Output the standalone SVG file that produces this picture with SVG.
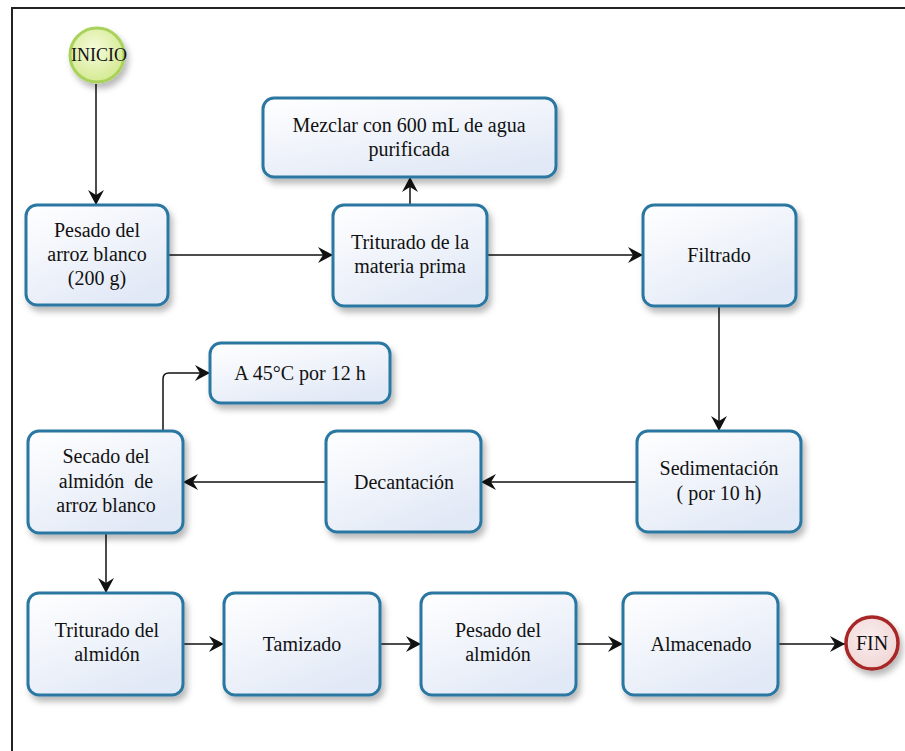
<svg xmlns="http://www.w3.org/2000/svg" width="905" height="751" viewBox="0 0 905 751">
<defs>
<linearGradient id="boxFill" x1="0" y1="0" x2="0.6" y2="1">
<stop offset="0" stop-color="#ffffff"/>
<stop offset="1" stop-color="#e2e9f6"/>
</linearGradient>
<radialGradient id="startFill" cx="0.45" cy="0.4" r="0.6">
<stop offset="0" stop-color="#f6fbdc"/>
<stop offset="1" stop-color="#d4ea92"/>
</radialGradient>
<radialGradient id="endFill" cx="0.45" cy="0.4" r="0.6">
<stop offset="0" stop-color="#fbeeee"/>
<stop offset="1" stop-color="#f0d6d6"/>
</radialGradient>
<filter id="shadow" x="-20%" y="-20%" width="150%" height="160%">
<feDropShadow dx="3" dy="5" stdDeviation="3" flood-color="#000" flood-opacity="0.28"/>
</filter>
<marker id="arrow" markerUnits="userSpaceOnUse" markerWidth="17" markerHeight="17" refX="15" refY="8" orient="auto">
<path d="M0,0 L15,8 L0,16 L5,8 Z" fill="#111"/>
</marker>
<style>
.box{fill:url(#boxFill);stroke:#2a77a2;stroke-width:3;filter:url(#shadow)}
.lbl{font-size:20px;fill:#111;text-anchor:middle}
.conn{fill:none;stroke:#111;stroke-width:1.5;marker-end:url(#arrow)}
.frame{stroke:#222;stroke-width:2;fill:none}
</style>
</defs>
<rect x="0" y="0" width="905" height="751" fill="#ffffff"/>
<path class="frame" d="M12,751 V8 H905"/>

<g id="connectors">
<path class="conn" d="M96,84 V205"/>
<path class="conn" d="M168,255 H333"/>
<path class="conn" d="M410,205 V177"/>
<path class="conn" d="M487,255 H643"/>
<path class="conn" d="M719,307 V431"/>
<path class="conn" d="M637,482 H481"/>
<path class="conn" d="M326,482 H183"/>
<path class="conn" d="M163,431 V379 Q163,373 169,373 H210"/>
<path class="conn" d="M106,533 V593"/>
<path class="conn" d="M183,644 H224"/>
<path class="conn" d="M380,644 H421"/>
<path class="conn" d="M576,644 H623"/>
<path class="conn" d="M778,644 H845"/>
</g>

<g font-family="Liberation Serif, DejaVu Serif, serif">
<g id="inicio">
<circle cx="97" cy="55" r="27" fill="url(#startFill)" stroke="#a9d25c" stroke-width="3" filter="url(#shadow)"/>
<text class="lbl" x="99" y="61" font-size="18" style="font-size:18px">INICIO</text>
</g>

<g id="pesado-arroz">
<rect class="box" x="26" y="205" width="142" height="100" rx="11"/>
<text class="lbl" x="97" y="237">Pesado del</text>
<text class="lbl" x="97" y="261">arroz blanco</text>
<text class="lbl" x="97" y="285">(200 g)</text>
</g>

<g id="mezclar">
<rect class="box" x="263" y="98" width="293" height="79" rx="11"/>
<text class="lbl" x="409" y="132">Mezclar con 600 mL de agua</text>
<text class="lbl" x="409" y="156">purificada</text>
</g>

<g id="triturado-materia">
<rect class="box" x="333" y="205" width="154" height="101" rx="11"/>
<text class="lbl" x="410" y="249">Triturado de la</text>
<text class="lbl" x="410" y="273">materia prima</text>
</g>

<g id="filtrado">
<rect class="box" x="643" y="205" width="153" height="101" rx="11"/>
<text class="lbl" x="719" y="262">Filtrado</text>
</g>

<g id="sedimentacion">
<rect class="box" x="637" y="431" width="164" height="101" rx="11"/>
<text class="lbl" x="719" y="475">Sedimentación</text>
<text class="lbl" x="719" y="500">( por 10 h)</text>
</g>

<g id="decantacion">
<rect class="box" x="326" y="431" width="155" height="101" rx="11"/>
<text class="lbl" x="404" y="489">Decantación</text>
</g>

<g id="secado">
<rect class="box" x="28" y="431" width="155" height="102" rx="11"/>
<text class="lbl" x="106" y="463">Secado del</text>
<text class="lbl" x="106" y="488" xml:space="preserve">almidón  de</text>
<text class="lbl" x="106" y="512">arroz blanco</text>
</g>

<g id="a45">
<rect class="box" x="210" y="343" width="180" height="60" rx="11"/>
<text class="lbl" x="300" y="380">A 45°C por 12 h</text>
</g>

<g id="triturado-almidon">
<rect class="box" x="28" y="593" width="155" height="102" rx="11"/>
<text class="lbl" x="107" y="637">Triturado del</text>
<text class="lbl" x="107" y="661">almidón</text>
</g>

<g id="tamizado">
<rect class="box" x="224" y="593" width="156" height="102" rx="11"/>
<text class="lbl" x="302" y="651">Tamizado</text>
</g>

<g id="pesado-almidon">
<rect class="box" x="421" y="593" width="155" height="102" rx="11"/>
<text class="lbl" x="498" y="637">Pesado del</text>
<text class="lbl" x="498" y="661">almidón</text>
</g>

<g id="almacenado">
<rect class="box" x="623" y="593" width="155" height="102" rx="11"/>
<text class="lbl" x="701" y="651">Almacenado</text>
</g>

<g id="fin">
<circle cx="872" cy="643" r="26" fill="url(#endFill)" stroke="#a82828" stroke-width="3.5" filter="url(#shadow)"/>
<text class="lbl" x="872" y="650">FIN</text>
</g>
</g>
</svg>
